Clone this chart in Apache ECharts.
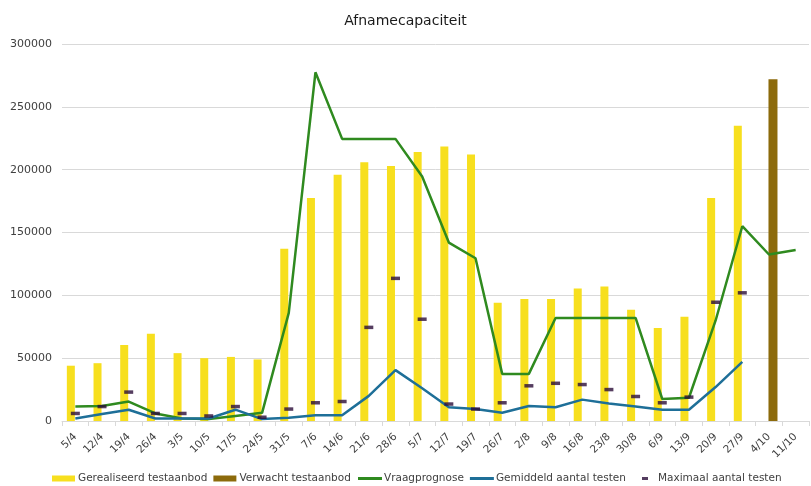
<!DOCTYPE html>
<html>
<head>
<meta charset="utf-8">
<script src="https://cdn.jsdelivr.net/npm/echarts@6/dist/echarts.min.js"></script>
<style>html,body{margin:0;padding:0;background:#fff}#c{width:811px;height:486px}</style>
</head>
<body>
<div id="c"></div>
<script>
const categories = ['5/4','12/4','19/4','26/4','3/5','10/5','17/5','24/5','31/5','7/6','14/6','21/6','28/6','5/7','12/7','19/7','26/7','2/8','9/8','16/8','23/8','30/8','6/9','13/9','20/9','27/9','4/10','11/10'];
const gerealiseerd = [44000,46000,60500,69500,54000,50000,51000,49000,137000,177500,196000,206000,203000,214000,218500,212000,94000,97000,97000,105500,107000,88500,74000,83000,177500,235000,null,null];
const verwacht = [null,null,null,null,null,null,null,null,null,null,null,null,null,null,null,null,null,null,null,null,null,null,null,null,null,null,272000,null];
const vraagprognose = [11500,12000,15500,6000,2000,1500,4000,6500,86000,277500,224500,224500,224500,194500,142000,129500,37500,37500,82000,82000,82000,82000,17500,18500,80000,155000,132500,136000];
const gemiddeld = [2000,5500,9000,2000,2000,2000,9000,1500,2500,4500,4500,20000,40500,26000,11000,9500,6500,12000,11000,17000,14000,11500,9000,9000,27000,47000,null,null];
const maximaal = [6000,11500,23000,6000,6000,4000,11500,3000,9500,14500,15500,74500,113500,81000,13500,9500,14500,28000,30000,29000,25000,19500,14500,19000,94500,102000,null,null];
const yTicks = [0,50000,100000,150000,200000,250000,300000];

const FONT = 'DejaVu Sans';
const chart = echarts.init(document.getElementById('c'), null, {renderer:'canvas'});
chart.setOption({
  animation:false,
  backgroundColor:'#fff',
  title:{text:'Afnamecapaciteit',left:'center',top:9,textStyle:{fontFamily:FONT,fontSize:14,fontWeight:'normal',color:'#1a1a1a'}},
  grid:{left:62,right:2,top:44,bottom:65,containLabel:false},
  legend:[
    {data:['Gerealiseerd testaanbod','Verwacht testaanbod'],left:47,top:468,itemWidth:23,itemHeight:6,itemGap:6,icon:'rect',
     textStyle:{fontFamily:FONT,fontSize:10.5,color:'#404040',padding:[0,0,0,-2]}},
    {data:['Vraagprognose','Gemiddeld aantal testen'],left:353,top:468,itemWidth:24,itemHeight:3,itemGap:6,icon:'rect',
     textStyle:{fontFamily:FONT,fontSize:10.5,color:'#404040',padding:[0,0,0,-3]}},
    {data:['Maximaal aantal testen'],left:637,top:468,itemWidth:6,itemHeight:3,icon:'rect',
     textStyle:{fontFamily:FONT,fontSize:10.5,color:'#404040',padding:[0,0,0,5]}}
  ],
  xAxis:{type:'category',data:categories,boundaryGap:true,
    axisLine:{lineStyle:{color:'#d9d9d9',width:1}},
    axisTick:{show:true,length:5,lineStyle:{color:'#d9d9d9'}},
    axisLabel:{rotate:45,fontFamily:FONT,fontSize:10.5,color:'#404040',margin:14,interval:0}},
  yAxis:{type:'value',min:0,max:300000,interval:50000,
    axisLine:{show:false},axisTick:{show:false},
    splitLine:{lineStyle:{color:'#d9d9d9',width:1}},
    axisLabel:{fontFamily:FONT,fontSize:11,color:'#404040',margin:10,
      formatter:function(v){return yTicks.indexOf(v)>=0?String(v):'';}}},
  series:[
    {name:'Gerealiseerd testaanbod',type:'bar',data:gerealiseerd,barWidth:8,barGap:'0%',itemStyle:{color:'#f7df1e'}},
    {name:'Verwacht testaanbod',type:'bar',data:verwacht,barWidth:9,barGap:'0%',itemStyle:{color:'#8c6a0b'}},
    {name:'Vraagprognose',type:'line',data:vraagprognose,showSymbol:false,symbol:'none',lineStyle:{color:'#2f8a1f',width:2.5},itemStyle:{color:'#2f8a1f'}},
    {name:'Gemiddeld aantal testen',type:'line',data:gemiddeld,showSymbol:false,symbol:'none',lineStyle:{color:'#1e6f98',width:2.5},itemStyle:{color:'#1e6f98'}},
    {name:'Maximaal aantal testen',type:'scatter',data:maximaal,symbol:'rect',symbolSize:[9,3.5],itemStyle:{color:'#2a0c38'},z:5}
  ]
});
</script>
</body>
</html>
